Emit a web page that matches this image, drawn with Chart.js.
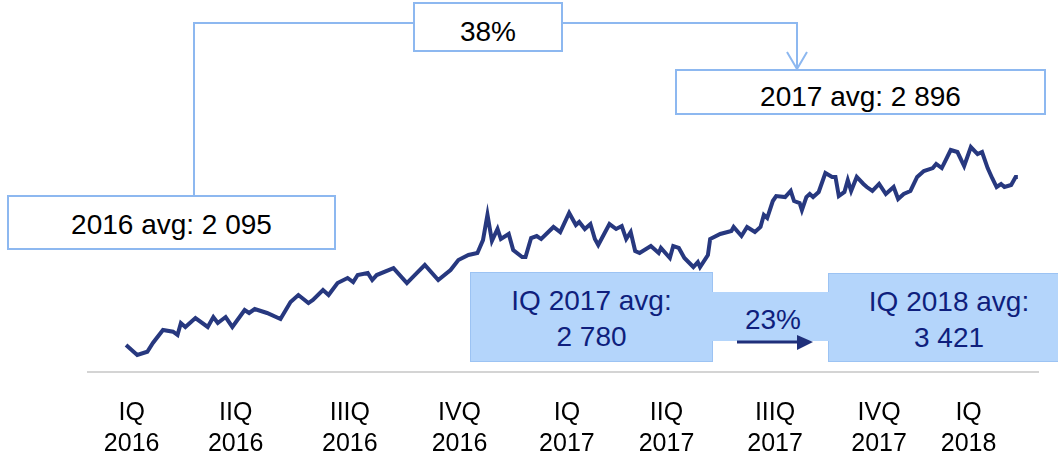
<!DOCTYPE html>
<html>
<head>
<meta charset="utf-8">
<script src="https://cdn.jsdelivr.net/npm/chart.js@4"></script>
<style>
    body { margin: 0; background: #fff; }
    .wrap { position: relative; width: 1058px; height: 458px; overflow: hidden; font-family: 'Liberation Sans', Arial, sans-serif; }
    #myChart { position: absolute; left: 0; top: 0; }
    svg { position: absolute; left: 0; top: 0; }
    .box { position: absolute; box-sizing: border-box; display: flex; align-items: center; justify-content: center; font-size: 28px; text-align: center; }
    .outline { background: #fff; border: 2px solid #8db8f0; color: #000; }
    .blue { background: #b4d5fb; border: 1.5px solid #9cc3f3; color: #0f1f7d; line-height: 36px; }
    .band { position: absolute; background: #b4d5fb; }
</style>
</head>
<body>
<div class="wrap">
    <canvas id="myChart" width="1058" height="458"></canvas>
    <svg width="1058" height="458">
        <path d="M194 195 V23 H413" fill="none" stroke="#8db8f0" stroke-width="2"/>
        <path d="M563 23 H797 V68" fill="none" stroke="#8db8f0" stroke-width="2"/>
        <path d="M787 52 L797 69 L807 52" fill="none" stroke="#8db8f0" stroke-width="2"/>
    </svg>
    <div class="box outline" style="left:7px;top:195px;width:329px;height:55px;padding-top:5px">2016 avg: 2 095</div>
    <div class="box outline" style="left:413px;top:2px;width:150px;height:50px;padding-top:10px">38%</div>
    <div class="box outline" style="left:675px;top:69px;width:371px;height:46px;padding-top:10px">2017 avg: 2 896</div>
    <div class="box blue" style="left:470px;top:272px;width:243px;height:90px;padding-top:4px">IQ 2017 avg:<br>2 780</div>
    <div class="box blue" style="left:828px;top:273px;width:242px;height:89px;padding-top:4px">IQ 2018 avg:<br>3 421</div>
    <div class="band" style="left:712px;top:292px;width:117px;height:49px"></div>
    <div class="box" style="left:733px;top:300px;width:80px;height:40px;color:#0f1f7d">23%</div>
    <svg width="1058" height="458">
        <path d="M737 342 H800" stroke="#1f2f7a" stroke-width="3"/>
        <path d="M797 335 L813 342 L797 350 Z" fill="#1f2f7a"/>
    </svg>
</div>
<script>
// дни от 1 января 2016 и значения индекса
let days = [7, 17, 26, 31, 40, 49, 53, 56, 60, 69, 80, 85, 89, 96, 102, 113, 117, 122, 133, 145,
    154, 161, 170, 174, 183, 188, 196, 205, 210, 214, 223, 227, 231, 246, 258, 265, 274, 286, 297, 304,
    313, 321, 326, 330, 334, 339, 342, 349, 353, 361, 364, 369, 374, 378, 389, 395, 403, 409, 412, 417,
    422, 426, 429, 439, 445, 450, 454, 458, 462, 466, 476, 483, 485, 493, 496, 501, 506, 514, 518, 520,
    527, 529, 538, 548, 550, 557, 562, 569, 574, 577, 580, 585, 588, 596, 601, 604, 609, 611, 615, 618,
    621, 626, 632, 638, 641, 644, 649, 652, 655, 660, 666, 669, 674, 680, 686, 693, 697, 702, 708, 714,
    720, 728, 731, 736, 744, 750, 756, 762, 768, 772, 777, 781, 785, 789, 792, 798, 802, 804];
let values = [1646, 1548, 1580, 1666, 1794, 1777, 1745, 1863, 1824, 1912, 1824, 1922, 1863, 1922, 1824, 1991, 1962, 2001, 1962, 1902,
    2070, 2139, 2060, 2090, 2188, 2139, 2257, 2307, 2267, 2336, 2356, 2287, 2336, 2405, 2257, 2336, 2435, 2287, 2386, 2484,
    2534, 2553, 2680, 2930, 2672, 2790, 2691, 2741, 2583, 2514, 2514, 2701, 2721, 2691, 2810, 2760, 2948, 2829, 2859, 2790,
    2839, 2691, 2632, 2839, 2790, 2819, 2691, 2760, 2573, 2553, 2622, 2553, 2603, 2504, 2622, 2603, 2504, 2415, 2464, 2415,
    2534, 2691, 2741, 2770, 2810, 2721, 2810, 2760, 2810, 2928, 2898, 3066, 3115, 3105, 3165, 3066, 3046, 2977, 3105, 3135,
    3105, 3155, 3342, 3303, 3303, 3115, 3155, 3273, 3165, 3303, 3234, 3204, 3165, 3234, 3135, 3204, 3086, 3135, 3165, 3303,
    3362, 3391, 3431, 3391, 3569, 3549, 3411, 3598, 3529, 3549, 3391, 3293, 3204, 3234, 3204, 3224, 3303, 3303];

let quarters = ['IQ', 'IIQ', 'IIIQ', 'IVQ', 'IQ', 'IIQ', 'IIIQ', 'IVQ', 'IQ'];
let years = ['2016', '2016', '2016', '2016', '2017', '2017', '2017', '2017', '2018'];
let tickDays = [12, 105, 207, 305, 401, 490, 587, 680, 760];

let points = days.map((d, i) => ({ x: d, y: values[i] }));

let ctx = document.getElementById('myChart').getContext('2d');

let myChart = new Chart(ctx, {
    type: 'line',
    data: {
        datasets: [{
            data: points,
            borderColor: '#27387f',
            borderWidth: 4,
            pointRadius: 0,
            tension: 0,
            fill: false
        }]
    },
    options: {
        responsive: false,
        animation: false,
        layout: { padding: { left: 88, right: 20, top: 0, bottom: 0 } },
        plugins: { legend: { display: false }, tooltip: { enabled: false } },
        scales: {
            x: {
                type: 'linear',
                min: -27,
                max: 822,
                afterBuildTicks: (axis) => {
                    axis.ticks = tickDays.map(v => ({ value: v }));
                },
                // ось стоит на y = 372
                afterFit: (axis) => {
                    axis.height = 86;
                },
                grid: { display: false, drawTicks: false },
                border: { display: true, color: '#d4d4d4', width: 2 },
                ticks: {
                    autoSkip: false,
                    maxRotation: 0,
                    padding: 26,
                    color: '#000',
                    font: { family: 'Liberation Sans', size: 25, lineHeight: 1.22 },
                    callback: (value) => {
                        let i = tickDays.indexOf(value);
                        return i < 0 ? '' : [quarters[i], years[i]];
                    }
                }
            },
            y: {
                display: false,
                min: 1380,
                max: 5048
            }
        }
    }
});
</script>
</body>
</html>
